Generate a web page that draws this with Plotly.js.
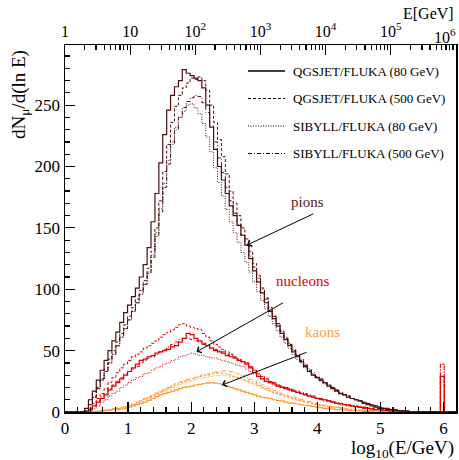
<!DOCTYPE html>
<html><head><meta charset="utf-8">
<script src="https://cdn.plot.ly/plotly-3.0.1.min.js"></script>
<style>html,body{margin:0;padding:0;background:#fff}#plot{width:459px;height:460px}</style>
</head><body><div id="plot"></div>
<script>
// histogram binning in log10(E/GeV)
const binWidth = 0.062;
const nBins = 100;

// pions
const pionQ80 = [0,0,0,0,0,3,10,17,26,34, 42,50,58,65,73,81,87,94,101,110, 120,134,155,178,203,226,246,258,265,270, 279,276,274,272,270,264,250,232,214,200, 189,178,168,160,152,144,136,125,115,106, 97,89,82,76,70,64,59,54,49,45, 41,37,33,30,28,26,24,21,19,17, 15,14,12,11,10,9,7,6,5,4, 3,3,2,2,1,1,1,0,0,0, 0,0,0,0,0,0,0,0,0,0];
const pionQ500 = [0,0,0,0,0,1,6,12,20,27, 35,43,50,57,64,71,78,85,92,99, 107,117,131,150,172,196,218,236,249,258, 264,268,272,271,273,270,262,250,236,222, 208,194,180,170,160,150,141,131,121,111, 101,93,85,78,72,66,60,55,50,46, 42,38,34,31,28,26,24,22,20,18, 16,14,13,11,10,9,8,7,6,5, 4,3,3,2,2,1,1,1,0,0, 0,0,0,0,0,0,0,0,0,0];
const pionS80 = [0,0,0,0,0,1,6,12,19,26, 33,40,47,54,61,68,75,82,89,96, 104,114,128,146,166,186,205,220,232,240, 245,250,251,248,243,235,224,212,199,187, 176,165,155,146,138,130,122,114,106,98, 91,84,78,72,66,61,56,52,47,43, 40,36,33,30,28,25,23,21,19,17, 15,14,12,11,10,9,8,7,6,5, 4,3,3,2,2,1,1,1,0,0, 0,0,0,0,0,0,0,0,0,0];
const pionS500 = [0,0,0,0,0,1,6,12,19,26, 33,40,47,54,61,68,75,82,89,96, 104,113,126,143,163,183,202,218,230,240, 248,253,256,258,257,252,244,233,220,207, 195,183,172,162,153,144,136,127,118,109, 100,92,85,78,72,66,61,56,51,47, 43,39,35,32,29,27,24,22,20,18, 16,14,13,11,10,9,8,7,6,5, 4,3,3,2,2,1,1,1,0,0, 0,0,0,0,0,0,0,0,0,0];
// nucleons
const nuclQ80 = [0,0,0,0,0,0,2,5,8,11, 14,18,21,24,27,30,33,36,39,42, 43,45,46,48,49,50,51,53,54,57, 60,64,63,60,58,56,54,52,50,49, 48,46,45,44,42,41,39,36,32,29, 27,25,24,23,21,20,19,18,17,16, 15,14,13,12,11,10.5,10,9,8,7, 6.5,6,5.5,5,4.5,4,3.5,3,2.5,2, 2,1.5,1.5,1,1,1,0.5,0.5,0,0, 0,0,0,0,0,0,29,0,0,0];
const nuclQ500 = [0,0,0,0,0,0,3,7,11,15, 19,24,28,32,36,39,42,45,47,49, 52,54,56,58,61,63,65,67,69,71, 72,70,69,68,67,64,61,58,55,53, 51,49,47,45,43,41,40,37,34,31, 29,27,25,24,22,21,20,19,17,16, 15,14,13,12,11,10,10,9,8,7, 7,6,5,5,4,4,3,3,3,2, 2,2,1,1,1,1,1,0,0,0, 0,0,0,0,0,0,29,0,0,0];
const nuclS80 = [0,0,0,0,0,0,1,3,5,8, 10,13,15,17,20,22,24,26,28,29, 31,32,34,36,37,39,40,42,43,45, 46,47,48,47,46,46,45,44,44,43, 42,41,40,39,38,37,35,33,31,29, 27,25,24,22,21,20,19,18,17,16, 15,14,13,12,11,10,9,9,8,7, 6,6,5,5,4,4,3,3,2,2, 2,1,1,1,1,0,0,0,0,0, 0,0,0,0,0,0,39,0,0,0];
const nuclS500 = [0,0,0,0,0,0,2,5,9,12, 15,19,22,25,28,31,33,35,37,40, 42,44,45,47,49,51,53,55,57,59, 60,60,59,58,57,55,54,52,51,50, 49,47,46,44,43,41,40,37,34,31, 29,27,25,24,22,21,20,19,18,17, 16,15,14,13,12,11,10,9,8,8, 7,6,6,5,5,4,4,3,3,2, 2,2,1,1,1,1,0,0,0,0, 0,0,0,0,0,0,39,0,0,0];
// kaons
const kaonQ80 = [0,0,0,0,0,0,0,0,0.5,1, 1,1.5,2,2,2.5,3,4,5,6,7, 8,9.5,11,12.5,14,15,16,17,18,19, 20,20.5,21,22,22.5,23,23.5,24,23.5,23, 22,21,20,19,18,17,16,15,14,13, 12,11.5,11,10,9.5,9,8,7.5,7,6.5, 6,5.5,5,4.5,4,3.5,3,2.5,2.5,2, 2,1.5,1.5,1,1,1,0.5,0.5,0.5,0, 0,0,0,0,0,0,0,0,0,0, 0,0,0,0,0,0,0,0,0,0];
const kaonQ500 = [0,0,0,0,0,0,0,0,0.5,1, 1.5,2,2.5,3,3.5,4,5,6,7.5,9, 10.5,12,13.5,15,16.5,18,19.5,21,22.5,24, 25,26,27,28,29,29.5,30,31,31.5,32, 31.5,31,30,29,28,27,26,24.5,23,21.5, 20,19,17.5,16,15,14,13,12,11,10, 9,8.5,7.5,7,6,5.5,5,4.5,4,3.5, 3,2.5,2.5,2,2,1.5,1.5,1,1,1, 0.5,0.5,0,0,0,0,0,0,0,0, 0,0,0,0,0,0,0,0,0,0];
const kaonS80 = [0,0,0,0,0,0,0,0,0.5,1, 1.5,2,2.5,3,3.5,4,5,6,7,8.5, 10,11.5,13,14.5,16,17,18.5,20,21,22.5, 23.5,24.5,25.5,26.5,27,28,28.5,29,29.5,30, 30,29.5,29,28,27,26,25,23.5,22,21, 19.5,18,17,15.5,14.5,13.5,12.5,11.5,10.5,9.5, 9,8,7.5,6.5,6,5.5,5,4.5,4,3.5, 3,2.5,2,2,1.5,1.5,1,1,1,0.5, 0.5,0,0,0,0,0,0,0,0,0, 0,0,0,0,0,0,0,0,0,0];
const kaonS500 = [0,0,0,0,0,0,0,0,0.5,1, 1.5,2,2.5,3,3.5,4.5,5.5,6.5,8,9.5, 11,12.5,14,15.5,17,18.5,20,21.5,23,24.5, 25.5,26.5,27.5,28.5,29.5,30.5,31,32,32.5,33, 33.5,34,33,32,31,29.5,28,26.5,25,23.5, 22,20.5,19,17.5,16,15,14,13,12,11, 10,9,8.5,7.5,7,6,5.5,5,4.5,4, 3.5,3,2.5,2.5,2,1.5,1.5,1,1,1, 0.5,0.5,0,0,0,0,0,0,0,0, 0,0,0,0,0,0,0,0,0,0];

const legendLabels = ["QGSJET/FLUKA (80 GeV)","QGSJET/FLUKA (500 GeV)","SIBYLL/FLUKA (80 GeV)","SIBYLL/FLUKA (500 GeV)"];
const topTickVals = [1,10,100,1000,10000,100000,1000000];
const topTickText = ["1","10","10<sup>2</sup>","10<sup>3</sup>","10<sup>4</sup>","10<sup>5</sup>",""];
const lastTopLabel = "10<sup>6</sup>";

const edges = [];
for (let i = 0; i <= nBins; i++) edges.push(+(i*binWidth).toFixed(4));

const dashes = ['solid','3px,2px','1px,1.5px','4px,2px,1px,2px'];
const widths = [1.2,1,1,1];
const groups = [
  {color:'#4b0f0f', series:[pionQ80,pionQ500,pionS80,pionS500]},
  {color:'#e00000', series:[nuclQ80,nuclQ500,nuclS80,nuclS500]},
  {color:'#ff9933', series:[kaonQ80,kaonQ500,kaonS80,kaonS500]}
];
const traces = [];
groups.slice().reverse().forEach(g => {
  g.series.forEach((s, k) => {
    traces.push({x: edges, y: s.concat([s[s.length-1]]), type:'scatter', mode:'lines',
      line:{shape:'hv', color:g.color, width:widths[k], dash:dashes[k]}, showlegend:false, hoverinfo:'skip'});
  });
});
// invisible carriers for the top energy axis and the minor-tick axes
const ghost = {mode:'lines', line:{width:0, color:'rgba(0,0,0,0)'}, showlegend:false, hoverinfo:'skip'};
traces.push(Object.assign({x:[1,1000000], y:[0.5,0.5], xaxis:'x2', yaxis:'y2'}, ghost));
traces.push(Object.assign({x:[1,1000000], y:[0.5,0.5], xaxis:'x4', yaxis:'y2'}, ghost));
traces.push(Object.assign({x:[0,6], y:[0,0], xaxis:'x3', yaxis:'y'}, ghost));
traces.push(Object.assign({x:[0,6], y:[0,0], xaxis:'x', yaxis:'y3'}, ghost));

const minorTop = [], minorX = [], minorY = [];
for (let d = 0; d < 6; d++) for (let m = 2; m <= 9; m++) minorTop.push(m*Math.pow(10,d));
for (let i = 1; i <= 31; i++) if (i % 5) minorX.push(+(i*0.2).toFixed(1));
for (let i = 1; i <= 29; i++) if (i % 5) minorY.push(i*10);

const W = 459, H = 460, ml = 65, mr = 3, mt = 45, mb = 48;
const pw = W-ml-mr, ph = H-mt-mb;
const px = v => (v-ml)/pw;
const py = v => (H-mb-v)/ph;

const serif = '"Liberation Serif", "Times New Roman", serif';
const shapes = [], annotations = [];
const rowY = [71, 98.5, 126, 153.5];
legendLabels.forEach((lab, k) => {
  shapes.push({type:'line', xref:'paper', yref:'paper', x0:px(248), x1:px(285), y0:py(rowY[k]), y1:py(rowY[k]),
    line:{color:'#000', width:k===0?1.3:1, dash:dashes[k]}});
  annotations.push({xref:'paper', yref:'paper', x:px(291), y:py(rowY[k]), xanchor:'left', yanchor:'middle',
    text:lab, showarrow:false, font:{family:serif, size:13, color:'#000'}});
});
// labels with arrows
annotations.push({xref:'paper', yref:'paper', x:px(326), y:py(202), text:'pions', showarrow:false, font:{family:serif,size:15,color:'#5a1818'}});
annotations.push({x:2.886, y:136, ax:70, ay:-33, text:' ', showarrow:true, arrowhead:4, arrowsize:1.3, arrowwidth:1, arrowcolor:'#000'});
annotations.push({xref:'paper', yref:'paper', x:px(302), y:py(291), text:'nucleons', showarrow:false, font:{family:serif,size:15,color:'#dd0000'}});
annotations.push({x:2.085, y:49, ax:90, ay:-51, text:' ', showarrow:true, arrowhead:4, arrowsize:1.3, arrowwidth:1, arrowcolor:'#000'});
annotations.push({xref:'paper', yref:'paper', x:px(322), y:py(342), text:'kaons', showarrow:false, font:{family:serif,size:15,color:'#ff9f40'}});
annotations.push({x:2.49, y:22, ax:88, ay:-34, text:' ', showarrow:true, arrowhead:4, arrowsize:1.3, arrowwidth:1, arrowcolor:'#000'});
// axis titles and last top label
annotations.push({xref:'paper', yref:'paper', x:px(20), y:py(95), text:'dN<sub>μ</sub>/d(ln E)', textangle:-90, showarrow:false, xanchor:'center', yanchor:'middle', font:{family:serif,size:19,color:'#000'}});
annotations.push({xref:'paper', yref:'paper', x:1, y:py(449), text:'log<sub>10</sub>(E/GeV)', showarrow:false, xanchor:'right', yanchor:'middle', font:{family:serif,size:19,color:'#000'}});
annotations.push({xref:'paper', yref:'paper', x:1, y:py(14), text:'E[GeV]', showarrow:false, xanchor:'right', yanchor:'middle', font:{family:serif,size:16,color:'#000'}});
annotations.push({xref:'paper', yref:'paper', x:px(458), y:py(36), text:lastTopLabel, showarrow:false, xanchor:'right', yanchor:'middle', font:{family:serif,size:16,color:'#000'}});

const tk = 1.2;
const minorAxis = (extra) => Object.assign({ticks:'inside', ticklen:5, tickwidth:tk, tickcolor:'#000', showticklabels:false,
  showline:false, showgrid:false, zeroline:false, tickmode:'array'}, extra);
const layout = {
  width:W, height:H, margin:{l:ml, r:mr, t:mt, b:mb, pad:0},
  paper_bgcolor:'#fff', plot_bgcolor:'rgba(0,0,0,0)', showlegend:false,
  font:{family:serif, size:17, color:'#000'},
  xaxis:{domain:[0,1], range:[0,6.2], dtick:1, tick0:0, ticks:'inside', ticklen:10, tickwidth:tk, tickcolor:'#000',
    showline:true, linecolor:'#000', linewidth:1.5, mirror:true, showgrid:false, zeroline:false,
    tickfont:{family:serif, size:17}},
  yaxis:{domain:[0,1], range:[0,299], dtick:50, tick0:0, ticks:'inside', ticklen:10, tickwidth:tk, tickcolor:'#000',
    showline:true, linecolor:'#000', linewidth:1.5, mirror:true, showgrid:false, zeroline:false,
    tickfont:{family:serif, size:17}},
  xaxis3:minorAxis({overlaying:'x', anchor:'y', side:'bottom', range:[0,6.2], tickvals:minorX}),
  yaxis3:minorAxis({overlaying:'y', anchor:'x', side:'left', range:[0,299], tickvals:minorY}),
  xaxis2:{domain:[0,1], type:'log', range:[0,6], side:'top', anchor:'y2', tickmode:'array', tickvals:topTickVals, ticktext:topTickText,
    ticks:'inside', ticklen:10, tickwidth:tk, tickcolor:'#000',
    showline:true, linecolor:'#000', linewidth:1.5, showgrid:false, zeroline:false, tickfont:{family:serif, size:16}},
  xaxis4:minorAxis({overlaying:'x2', anchor:'y2', side:'top', type:'log', range:[0,6], tickvals:minorTop}),
  yaxis2:{domain:[0,1], anchor:'x2', range:[0,1], visible:false, showgrid:false, zeroline:false},
  shapes:shapes, annotations:annotations
};
Plotly.newPlot('plot', traces, layout, {staticPlot:true, displayModeBar:false});
</script></body></html>
